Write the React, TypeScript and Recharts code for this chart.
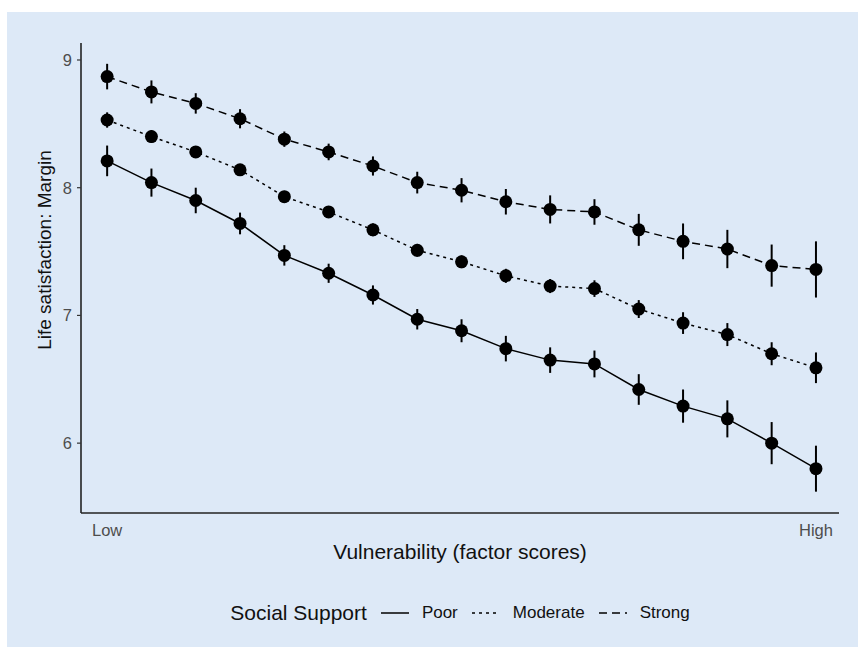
import React from 'react';
import { LineChart, Line, XAxis, YAxis, ErrorBar } from 'recharts';

const xIndex = [0, 1, 2, 3, 4, 5, 6, 7, 8, 9, 10, 11, 12, 13, 14, 15, 16];
const poor = [8.21, 8.04, 7.9, 7.72, 7.47, 7.33, 7.16, 6.97, 6.88, 6.74, 6.65, 6.62, 6.42, 6.29, 6.19, 6.0, 5.8];
const poorErr = [0.12, 0.11, 0.1, 0.085, 0.08, 0.075, 0.075, 0.08, 0.09, 0.1, 0.1, 0.105, 0.12, 0.13, 0.145, 0.165, 0.18];
const moderate = [8.53, 8.4, 8.28, 8.14, 7.93, 7.81, 7.67, 7.51, 7.42, 7.31, 7.23, 7.21, 7.05, 6.94, 6.85, 6.7, 6.59];
const moderateErr = [0.06, 0.05, 0.045, 0.045, 0.045, 0.045, 0.05, 0.05, 0.05, 0.055, 0.055, 0.065, 0.07, 0.085, 0.09, 0.09, 0.12];
const strong = [8.87, 8.75, 8.66, 8.54, 8.38, 8.28, 8.17, 8.04, 7.98, 7.89, 7.83, 7.81, 7.67, 7.58, 7.52, 7.39, 7.36];
const strongErr = [0.1, 0.09, 0.08, 0.075, 0.06, 0.065, 0.075, 0.085, 0.095, 0.1, 0.11, 0.1, 0.125, 0.14, 0.15, 0.165, 0.22];

const xTicks = [0, 16];
const xTickLabels = ['Low', 'High'];
const yTicks = [6, 7, 8, 9];

const seriesNames = ['Poor', 'Moderate', 'Strong'];
const seriesKeys = ['poor', 'moderate', 'strong'];
const seriesDash = ['', '3 4', '8 5'];

const data = xIndex.map((x, i) => ({
  x,
  poor: poor[i],
  poorErr: poorErr[i],
  moderate: moderate[i],
  moderateErr: moderateErr[i],
  strong: strong[i],
  strongErr: strongErr[i],
}));

const FONT = '"Liberation Sans", Arial, Helvetica, sans-serif';
const BG = '#dde9f7';

export default function App() {
  return (
    <div
      style={{
        position: 'absolute',
        left: 7,
        top: 12,
        width: 851,
        height: 635,
        background: BG,
        fontFamily: FONT,
      }}
    >
      <LineChart
        width={851}
        height={635}
        data={data}
        margin={{ top: 31, right: 19, bottom: 0, left: 0 }}
      >
        <XAxis
          dataKey="x"
          type="number"
          domain={[-0.59, 16.52]}
          ticks={xTicks}
          tickFormatter={(v: number) => xTickLabels[xTicks.indexOf(v)] ?? ''}
          tickLine={false}
          tickSize={6}
          tickMargin={5}
          height={134}
          axisLine={{ stroke: '#222', strokeWidth: 1.6 }}
          tick={{ fill: '#4d4d4d', fontSize: 16.5, fontFamily: FONT }}
          allowDataOverflow
        />
        <YAxis
          type="number"
          domain={[5.453, 9.133]}
          ticks={yTicks}
          width={74}
          tickSize={4}
          tickMargin={5}
          axisLine={{ stroke: '#222', strokeWidth: 1.6 }}
          tickLine={{ stroke: '#333', strokeWidth: 1.2 }}
          tick={{ fill: '#4d4d4d', fontSize: 16.5, fontFamily: FONT }}
          allowDataOverflow
        />
        {seriesKeys.map((k, i) => (
          <Line
            key={k}
            type="linear"
            dataKey={k}
            name={seriesNames[i]}
            stroke="#000"
            strokeWidth={1.5}
            strokeDasharray={seriesDash[i] || undefined}
            dot={{ r: 6.5, fill: '#000', stroke: '#000', strokeWidth: 0 }}
            activeDot={false}
            isAnimationActive={false}
          >
            <ErrorBar dataKey={k + 'Err'} width={0} stroke="#000" strokeWidth={2} direction="y" />
          </Line>
        ))}
      </LineChart>

      <div
        style={{
          position: 'absolute',
          left: 38 - 150,
          top: 238 - 12,
          width: 300,
          height: 24,
          lineHeight: '24px',
          textAlign: 'center',
          transform: 'rotate(-90deg)',
          fontSize: 19,
          color: '#111',
        }}
      >
        Life satisfaction: Margin
      </div>

      <div
        style={{
          position: 'absolute',
          left: 74,
          width: 758,
          top: 528,
          lineHeight: '24px',
          textAlign: 'center',
          fontSize: 21,
          color: '#111',
        }}
      >
        Vulnerability (factor scores)
      </div>

      <div
        style={{
          position: 'absolute',
          left: 74,
          width: 758,
          top: 589,
          height: 24,
          display: 'flex',
          justifyContent: 'center',
          alignItems: 'center',
          color: '#111',
        }}
      >
        <span style={{ fontSize: 21, marginRight: 14 }}>Social Support</span>
        {seriesNames.map((n, i) => (
          <span key={n} style={{ display: 'inline-flex', alignItems: 'center' }}>
            <svg width={28} height={10} style={{ marginRight: 13 }}>
              <line
                x1={0}
                y1={5}
                x2={28}
                y2={5}
                stroke="#000"
                strokeWidth={1.5}
                strokeDasharray={seriesDash[i] || undefined}
              />
            </svg>
            <span style={{ fontSize: 17, marginRight: i < seriesNames.length - 1 ? 14 : 0 }}>{n}</span>
          </span>
        ))}
      </div>
    </div>
  );
}
